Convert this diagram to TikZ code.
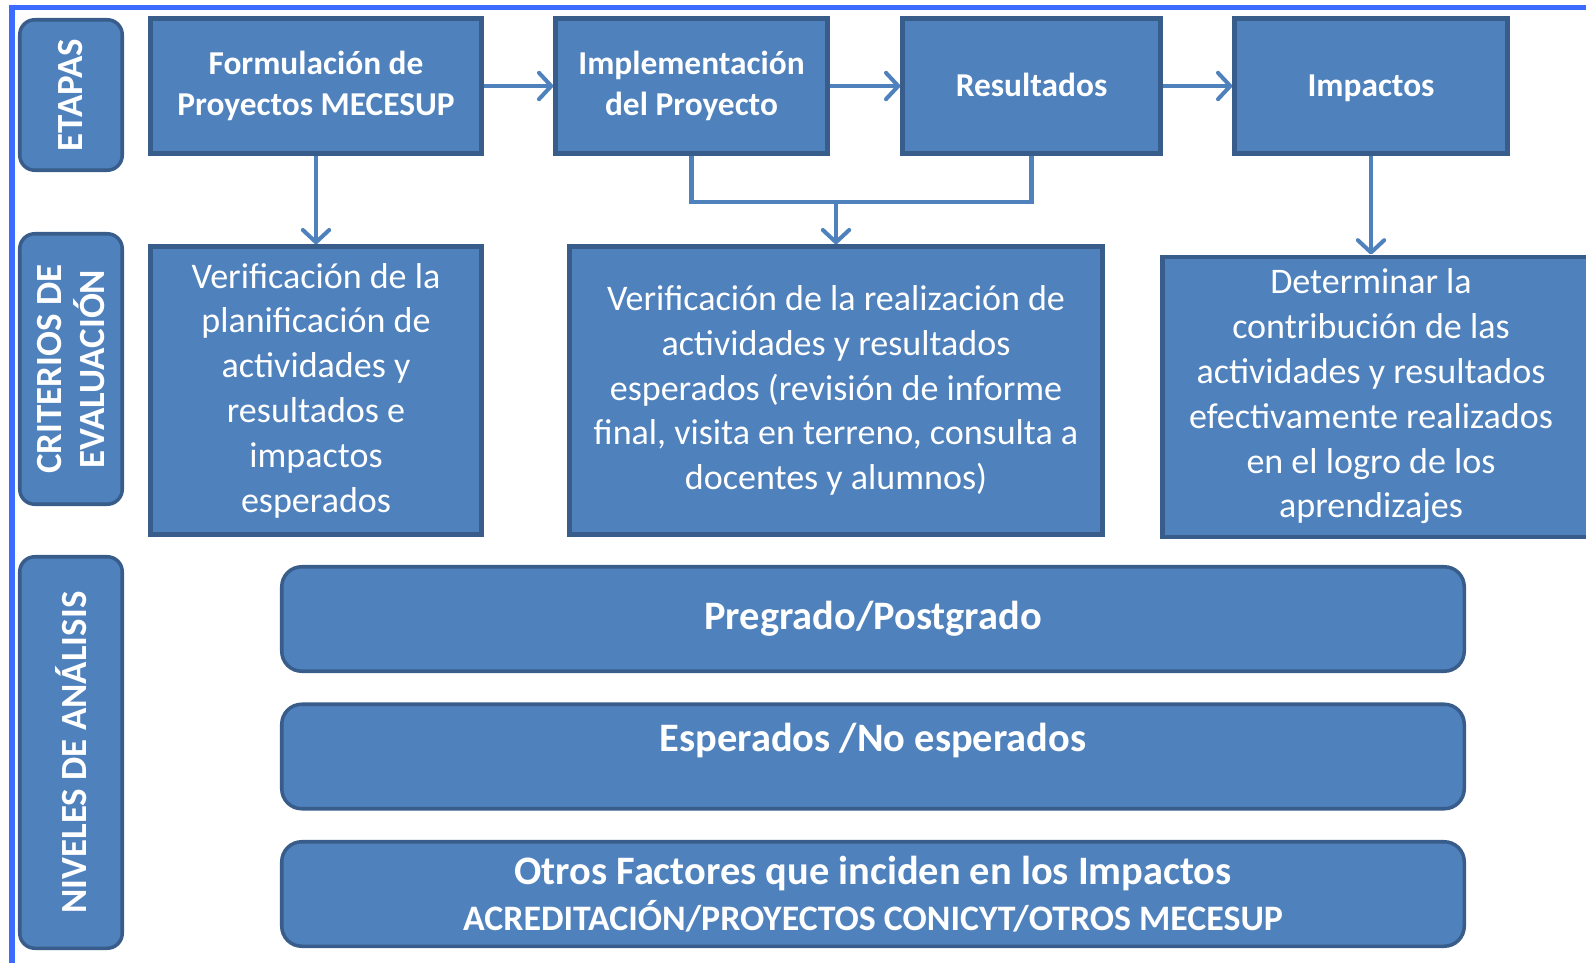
\documentclass[tikz,border=0pt]{standalone}
\usepackage{fontspec}
\setmainfont{Carlito}
\usetikzlibrary{arrows.meta}

\definecolor{boxfill}{HTML}{4F81BD}
\definecolor{boxline}{HTML}{385D8A}
\definecolor{framblue}{HTML}{3C6BFF}

\tikzset{
  stagebox/.style={rectangle, fill=boxfill, draw=boxline, line width=2.5pt,
    text=white, align=center, font=\bfseries\fontsize{19}{23.5}\selectfont},
  critbox/.style={rectangle, fill=boxfill, draw=boxline, line width=2.5pt,
    text=white, align=center, font=\fontsize{20.5}{25.5}\selectfont},
  sidebox/.style={rectangle, rounded corners=0.3cm, fill=boxfill, draw=boxline,
    line width=2pt, text=white, align=center, rotate=90,
    font=\bfseries\fontsize{21}{24.4}\selectfont},
  levelbox/.style={rectangle, rounded corners=0.4cm, fill=boxfill, draw=boxline,
    line width=2pt, text=white, align=center,
    minimum width=23.65cm, minimum height=2.09cm,
    font=\bfseries\fontsize{23}{27}\selectfont},
  arr/.style={draw=boxfill, line width=2.3pt, -{Straight Barb[length=7pt,width=15pt,round]}},
  link/.style={draw=boxfill, line width=2.3pt}
}

\begin{document}
\begin{tikzpicture}
    \useasboundingbox (0,0) rectangle (31.72,-19.26);
    \draw[framblue, line width=3pt] (0.24,-19.5) -- (0.24,-0.15) -- (32,-0.15);

    \node[sidebox, minimum width=3.01cm, minimum height=2.05cm] (etapas) at (1.42,-1.9) {ETAPAS};
    \node[sidebox, minimum width=5.41cm, minimum height=2.05cm] (criterios) at (1.42,-7.38) {CRITERIOS DE\\EVALUACIÓN};
    \node[sidebox, minimum width=7.83cm, minimum height=2.05cm] (niveles) at (1.42,-15.05) {NIVELES DE ANÁLISIS};

    \node[stagebox, minimum width=6.62cm, minimum height=2.7cm] (form) at (6.32,-1.72) {Formulación de\\Proyectos MECESUP};
    \node[stagebox, minimum width=5.44cm, minimum height=2.7cm] (impl) at (13.83,-1.72) {Implementación\\del Proyecto};
    \node[stagebox, minimum width=5.16cm, minimum height=2.7cm, text height=12pt, text depth=0pt] (res) at (20.63,-1.72) {Resultados};
    \node[stagebox, minimum width=5.46cm, minimum height=2.7cm, text height=12pt, text depth=0pt] (imp) at (27.42,-1.72) {Impactos};

    \node[critbox, minimum width=6.62cm, minimum height=5.76cm] (verplan) at (6.32,-7.81)
      {Verificación de la\\planificación de\\actividades y\\resultados e\\impactos\\esperados};
    \node[critbox, minimum width=10.66cm, minimum height=5.76cm] (verreal) at (16.72,-7.81)
      {Verificación de la realización de\\actividades y resultados\\esperados (revisión de informe\\final, visita en terreno, consulta a\\docentes y alumnos)};
    \node[critbox, minimum width=8.7cm, minimum height=5.5cm] (contrib) at (27.6,-7.94)
      {\hspace*{-0.36cm}\begin{tabular}{@{}c@{}}Determinar la\\contribución de las\\actividades y resultados\\efectivamente realizados\\en el logro de los\\aprendizajes\end{tabular}};

    \draw[arr] (form) -- (impl);
    \draw[arr] (impl) -- (res);
    \draw[arr] (res) -- (imp);

    \coordinate (join) at (16.72,-4.04);
    \draw[link] (impl.south) |- (join) -| (res.south);
    \draw[arr] (join) -- (verreal.north);
    \draw[arr] (form.south) -- (verplan.north);
    \draw[arr] (imp.south) -- (imp.south |- contrib.north);

    \node[levelbox] (pregrado) at (17.46,-12.38) {Pregrado/Postgrado};
    \node[levelbox] (esperados) at (17.46,-15.13) {};
    \node[font=\bfseries\fontsize{23}{27}\selectfont, text=white] (esptext) at ([yshift=0.32cm]esperados.center) {Esperados /No esperados};
    \node[levelbox] (otros) at (17.46,-17.88)
      {Otros Factores que inciden en los Impactos\\[-1pt]{\fontsize{20.4}{24}\selectfont ACREDITACIÓN/PROYECTOS CONICYT/OTROS MECESUP}};
\end{tikzpicture}
\end{document}
